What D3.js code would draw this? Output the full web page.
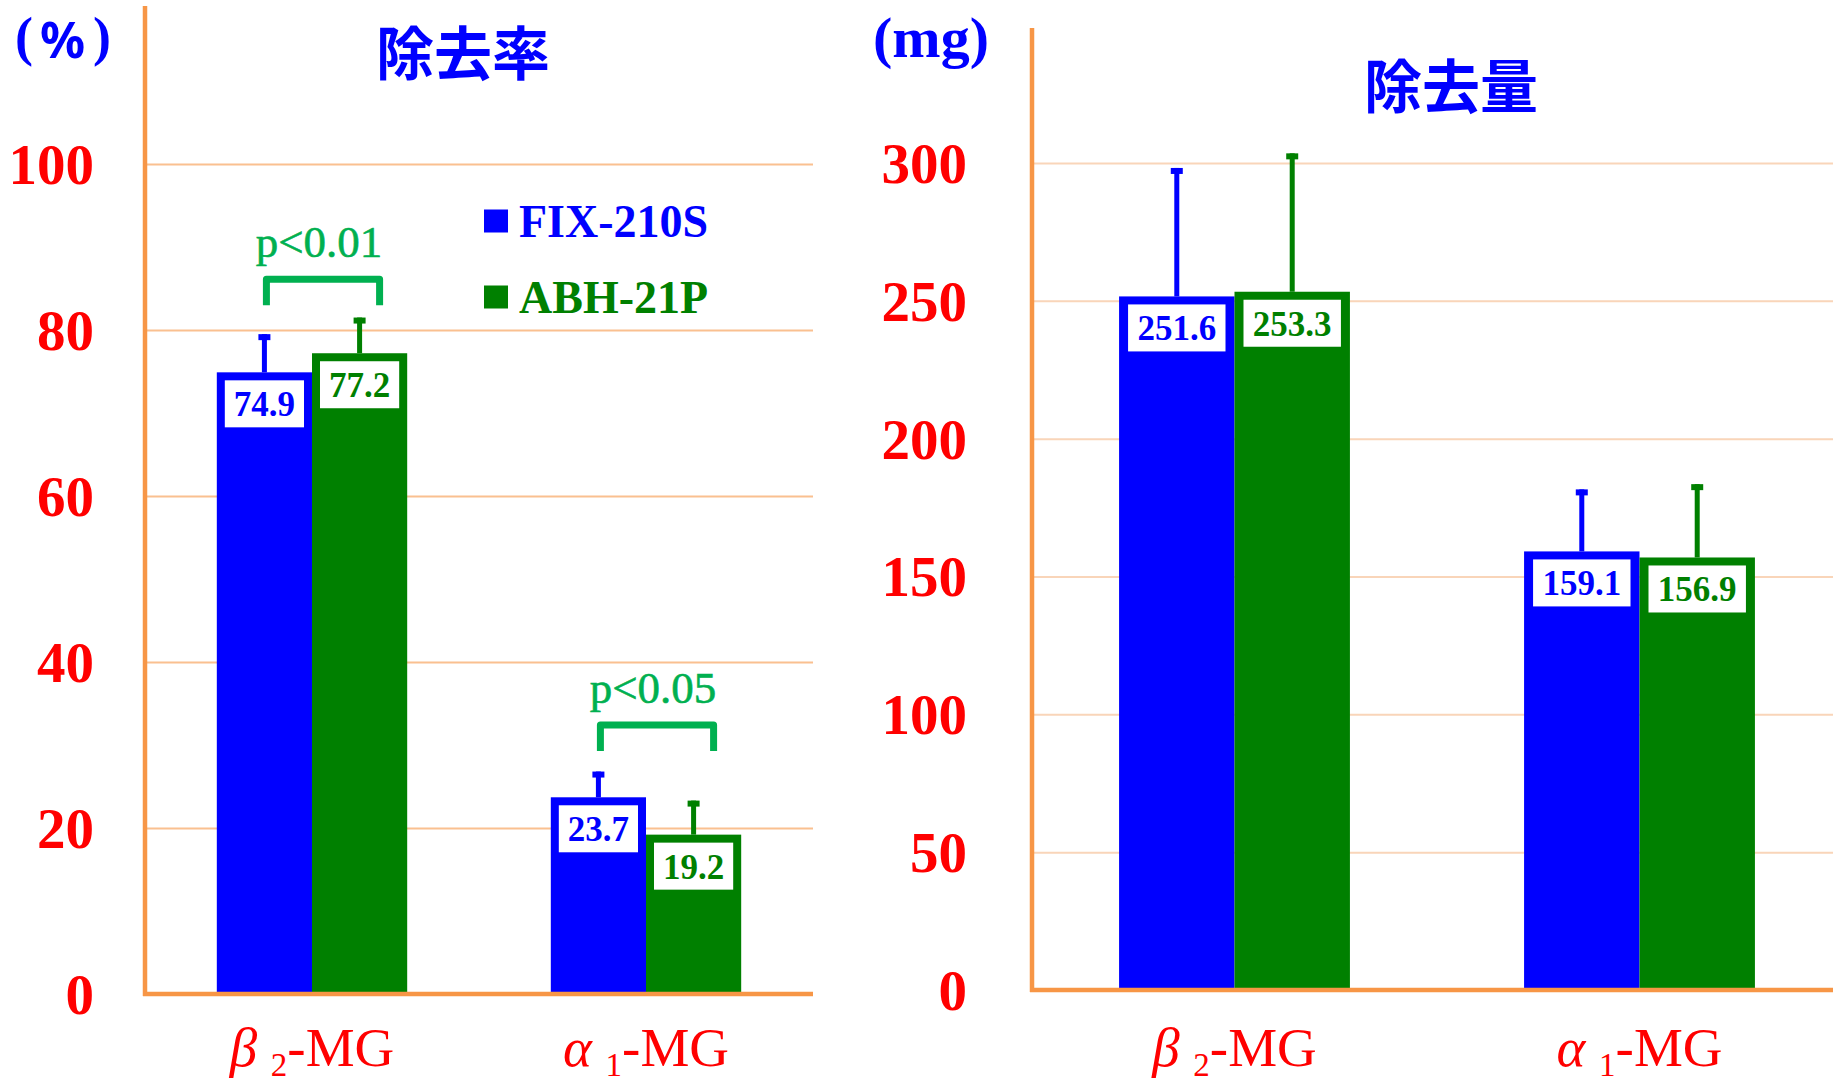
<!DOCTYPE html>
<html>
<head>
<meta charset="utf-8">
<script src="https://cdn.jsdelivr.net/npm/d3@7"></script>
<style>
  html, body { margin: 0; padding: 0; background: #ffffff; }
  svg { display: block; }
</style>
</head>
<body>
<svg id="chart" width="1833" height="1087"></svg>
<script>
// ---------------- data ----------------
const categories = ["β2-MG", "α1-MG"];
const series = ["FIX-210S", "ABH-21P"];

// 除去率 (%)
const rateFIX = [74.9, 23.7];
const rateABH = [77.2, 19.2];
const rateSdFIX = [4.6, 3.1];
const rateSdABH = [4.3, 4.1];
const rateTicks = [0, 20, 40, 60, 80, 100];

// 除去量 (mg)
const amtFIX = [251.6, 159.1];
const amtABH = [253.3, 156.9];
const amtSdFIX = [46.6, 22.5];
const amtSdABH = [50.2, 26.6];
const amtTicks = [0, 50, 100, 150, 200, 250, 300];

// significance markers on 除去率
const sigLabels = ["p<0.01", "p<0.05"];
const sigLevels = [86.1, 32.4];

// ---------------- styles ----------------
const BLUE = "#0000FF", GREEN = "#008000", SIGGREEN = "#00B050", RED = "#FF0000";
const AXIS = "#F79646";
const colors = [BLUE, GREEN];
const SERIF = "'Liberation Serif', 'Times New Roman', serif";
const CJK = "'Noto Sans CJK JP', 'Noto Sans CJK SC', sans-serif";

const svg = d3.select("#chart");

function drawPanel(opt) {
  const g = svg.append("g");
  const x0 = d3.scaleBand().domain(categories).range(opt.xRange).padding(0);
  const groupW = x0.bandwidth() * 0.57;
  const x1 = d3.scaleBand().domain(series).range([0, groupW]).padding(0);
  const y = d3.scaleLinear().domain([0, opt.max]).range(opt.yRange);

  // gridlines
  const grid = g.append("g")
    .attr("transform", `translate(${opt.xRange[0]},0)`)
    .call(d3.axisLeft(y).tickValues(opt.ticks.filter(t => t > 0))
      .tickSize(-(opt.plotRight - opt.xRange[0])).tickFormat(""));
  grid.select(".domain").remove();
  grid.selectAll(".tick line").attr("stroke", opt.gridColor).attr("stroke-width", 2);

  // tick labels
  const ax = g.append("g")
    .attr("transform", `translate(${opt.xRange[0]},0)`)
    .call(d3.axisLeft(y).tickValues(opt.ticks).tickSize(0).tickPadding(opt.tickPad));
  ax.select(".domain").remove();
  ax.selectAll(".tick text")
    .attr("fill", RED).attr("font-family", SERIF).attr("font-size", 57)
    .attr("font-weight", "bold").attr("dy", "0.34em");

  const vals = [opt.a, opt.b];
  const sds = [opt.sa, opt.sb];
  const rows = [];
  categories.forEach((c, i) => {
    series.forEach((s, j) => {
      rows.push({ c, s, j, v: vals[j][i], sd: sds[j][i],
        x: x0(c) + (x0.bandwidth() - groupW) / 2 + x1(s), w: x1.bandwidth() });
    });
  });

  // bars
  g.selectAll("rect.bar").data(rows).join("rect")
    .attr("class", "bar")
    .attr("x", d => d.x).attr("width", d => d.w)
    .attr("y", d => y(d.v)).attr("height", d => y(0) - y(d.v))
    .attr("fill", d => colors[d.j]);

  // error bars
  g.selectAll("rect.stem").data(rows).join("rect")
    .attr("class", "stem")
    .attr("x", d => d.x + d.w / 2 - 2.5).attr("width", 5)
    .attr("y", d => y(d.v + d.sd)).attr("height", d => y(d.v) - y(d.v + d.sd))
    .attr("fill", d => colors[d.j]);
  g.selectAll("rect.cap").data(rows).join("rect")
    .attr("class", "cap")
    .attr("x", d => d.x + d.w / 2 - 6).attr("width", 12)
    .attr("y", d => y(d.v + d.sd)).attr("height", 6)
    .attr("fill", d => colors[d.j]);

  // value boxes
  const inset = opt.inset;
  g.selectAll("rect.lbl").data(rows).join("rect")
    .attr("class", "lbl")
    .attr("x", d => d.x + inset).attr("width", d => d.w - 2 * inset)
    .attr("y", d => y(d.v) + 8).attr("height", 47)
    .attr("fill", "#ffffff");
  g.selectAll("text.lbl").data(rows).join("text")
    .attr("class", "lbl")
    .attr("x", d => d.x + d.w / 2).attr("y", d => y(d.v) + 44)
    .attr("text-anchor", "middle")
    .attr("font-family", SERIF).attr("font-size", 35).attr("font-weight", "bold")
    .attr("fill", d => colors[d.j])
    .text(d => d.v.toFixed(1));

  // category labels
  const cl = g.selectAll("text.cat").data(categories).join("text")
    .attr("class", "cat")
    .attr("x", c => x0(c) + x0.bandwidth() / 2).attr("y", 1066)
    .attr("text-anchor", "middle")
    .attr("font-family", SERIF).attr("font-size", 55).attr("fill", RED);
  cl.append("tspan").attr("font-style", "italic").text(c => c[0] + " ");
  cl.append("tspan").attr("font-size", 33).attr("dy", 10).text(c => c[1]);
  cl.append("tspan").attr("dy", -10).text(c => c.slice(2));

  // axes lines
  g.append("line")
    .attr("x1", opt.xRange[0]).attr("x2", opt.xRange[0])
    .attr("y1", opt.axisTop).attr("y2", y(0) + 2)
    .attr("stroke", AXIS).attr("stroke-width", 4.5);
  g.append("line")
    .attr("x1", opt.xRange[0] - 2).attr("x2", opt.plotRight)
    .attr("y1", y(0)).attr("y2", y(0))
    .attr("stroke", AXIS).attr("stroke-width", 4.5);

  // title
  g.append("text")
    .attr("x", opt.titleX).attr("y", opt.titleY)
    .attr("text-anchor", "middle").attr("dominant-baseline", "central")
    .attr("font-family", CJK).attr("font-weight", 700).attr("font-size", 58)
    .attr("fill", BLUE).text(opt.title);

  return { g, x0, x1, y, rows, groupW };
}

// ----- left panel: 除去率 -----
const L = drawPanel({
  xRange: [145, 813], plotRight: 813, yRange: [994, 164], max: 100,
  ticks: rateTicks, tickPad: 51, gridColor: "#FAC090", axisTop: 6,
  a: rateFIX, b: rateABH, sa: rateSdFIX, sb: rateSdABH, inset: 8,
  title: "除去率", titleX: 463, titleY: 50
});

// ----- right panel: 除去量 -----
const R = drawPanel({
  xRange: [1032, 1842], plotRight: 1833, yRange: [990, 163], max: 300,
  ticks: amtTicks, tickPad: 65, gridColor: "#F9D5B9", axisTop: 28,
  a: amtFIX, b: amtABH, sa: amtSdFIX, sb: amtSdABH, inset: 9,
  title: "除去量", titleX: 1451, titleY: 83
});

// unit labels
svg.append("text").attr("x", 15).attr("y", 55)
  .attr("font-family", SERIF).attr("font-weight", "bold").attr("font-size", 54)
  .attr("fill", BLUE).text("(");
svg.append("text").attr("x", 40).attr("y", 58)
  .attr("font-family", "'Noto Sans', sans-serif").attr("font-weight", "bold").attr("font-size", 50)
  .attr("fill", BLUE).text("%");
svg.append("text").attr("x", 93).attr("y", 55)
  .attr("font-family", SERIF).attr("font-weight", "bold").attr("font-size", 54)
  .attr("fill", BLUE).text(")");

svg.append("text").attr("x", 931).attr("y", 57).attr("text-anchor", "middle")
  .attr("font-family", SERIF).attr("font-weight", "bold").attr("fill", BLUE)
  .attr("font-size", 58).text("(mg)");

// significance brackets (left panel)
categories.forEach((c, i) => {
  const blue = L.rows.find(r => r.c === c && r.j === 0);
  const green = L.rows.find(r => r.c === c && r.j === 1);
  const xl = blue.x + blue.w / 2 + 2;
  const xr = green.x + green.w / 2 + 20;
  const yt = L.y(sigLevels[i]);
  L.g.append("path")
    .attr("d", `M${xl},${yt + 26} L${xl},${yt} L${xr},${yt} L${xr},${yt + 26}`)
    .attr("fill", "none").attr("stroke", SIGGREEN).attr("stroke-width", 7)
    .attr("stroke-linejoin", "round");
  L.g.append("text")
    .attr("x", (xl + xr) / 2 - 4).attr("y", yt - 22)
    .attr("text-anchor", "middle").attr("font-family", SERIF)
    .attr("font-size", 45).attr("fill", SIGGREEN)
    .attr("stroke", SIGGREEN).attr("stroke-width", 0.6).text(sigLabels[i]);
});

// legend
const legY = [221, 297];
series.forEach((s, j) => {
  svg.append("rect").attr("x", 484).attr("y", legY[j] - 11.5).attr("width", 24).attr("height", 23)
    .attr("fill", colors[j]);
  svg.append("text").attr("x", 519).attr("y", legY[j] + 16)
    .attr("font-family", SERIF).attr("font-weight", "bold").attr("font-size", 46)
    .attr("fill", colors[j]).text(s);
});
</script>
</body>
</html>
